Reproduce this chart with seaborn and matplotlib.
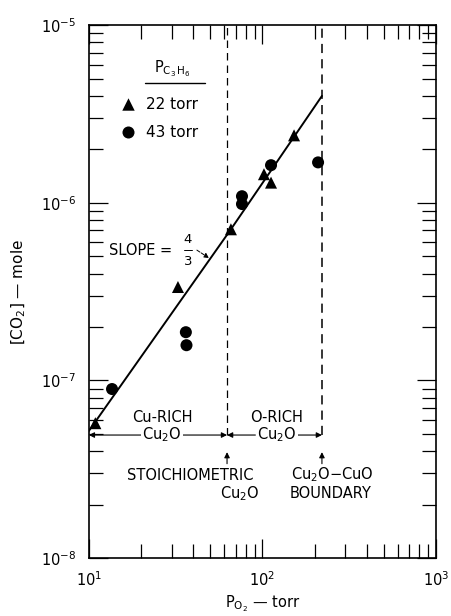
import numpy as np
import pandas as pd
import matplotlib
matplotlib.use("Agg")
import matplotlib.pyplot as plt
import seaborn as sns

# data
tri_x = [10.9, 32.6, 65.8, 102, 112, 152]
tri_y = [5.75e-8, 3.36e-7, 7.1e-7, 1.45e-6, 1.3e-6, 2.4e-6]
cir_x = [13.6, 36.2, 36.5, 76.2, 76.2, 112, 209]
cir_y = [8.95e-8, 1.87e-7, 1.58e-7, 1.09e-6, 9.85e-7, 1.63e-6, 1.69e-6]
fit_x = [10, 65.8, 220]
fit_y = [5.2e-8, 7.1e-7, 4.0e-6]
stoich_x = 62.5
boundary_x = 220
series_labels = ["22 torr", "43 torr"]

sns.set_style("ticks")
plt.rcParams['font.family'] = ['DejaVu Sans']
plt.rcParams['text.color'] = 'black'
plt.rcParams['axes.labelcolor'] = 'black'

fig = plt.figure(figsize=(4.51, 6.16), dpi=100)
ax = fig.add_axes([0.197, 0.094, 0.770, 0.865])

df = pd.DataFrame({
    "x": tri_x + cir_x,
    "y": tri_y + cir_y,
    "s": [series_labels[0]] * len(tri_x) + [series_labels[1]] * len(cir_x),
})
sns.scatterplot(data=df, x="x", y="y", style="s", markers={series_labels[0]: "^", series_labels[1]: "o"},
                color="black", s=75, edgecolor="black", linewidth=0, legend=False, ax=ax)
sns.lineplot(x=fit_x, y=fit_y, color="black", lw=1.4, ax=ax)

ax.set_xscale("log")
ax.set_yscale("log")
ax.set_xlim(10, 1000)
ax.set_ylim(1e-8, 1e-5)

ax.tick_params(which="both", direction="in", top=True, right=True, colors="black", labelsize=10.5, pad=9)
ax.tick_params(which="major", length=14, width=0.9)
ax.tick_params(which="minor", length=10, width=0.9)
for sp in ax.spines.values():
    sp.set_color("black")
    sp.set_linewidth(1.2)

ax.set_xlabel(r"P$_{\mathrm{O_2}}$ — torr", fontsize=10.5, labelpad=3)
ax.set_ylabel(r"[CO$_2$] — mole", fontsize=11)
ax.yaxis.set_label_coords(-0.175, 0.5)

yarr = 4.93e-8
fs = 10.5
# dashed vertical lines
ax.plot([stoich_x, stoich_x], [yarr, 1e-5], ls=(0, (6, 4)), color="black", lw=0.9)
ax.plot([boundary_x, boundary_x], [yarr, 1e-5], ls=(0, (6, 4)), color="black", lw=1.1)

# horizontal region arrows
def harrow(x0, x1):
    ax.annotate("", xy=(x1, yarr), xytext=(x0, yarr),
                arrowprops=dict(arrowstyle="-|>", color="black", lw=0.8, mutation_scale=8, shrinkA=0, shrinkB=0))

harrow(20.5, 10)
harrow(34, stoich_x)
harrow(91, stoich_x)
harrow(160, boundary_x)

ax.text(26.4, 6.2e-8, "Cu-RICH", ha="center", va="center", fontsize=fs)
ax.text(26.4, yarr, r"Cu$_2$O", ha="center", va="center", fontsize=fs,
        bbox=dict(facecolor="white", edgecolor="none", pad=1))
ax.text(121, 6.2e-8, "O-RICH", ha="center", va="center", fontsize=fs)
ax.text(121, yarr, r"Cu$_2$O", ha="center", va="center", fontsize=fs,
        bbox=dict(facecolor="white", edgecolor="none", pad=1))

# up arrows
for xv in (stoich_x, boundary_x):
    ax.annotate("", xy=(xv, 3.95e-8), xytext=(xv, 3.4e-8),
                arrowprops=dict(arrowstyle="-|>", color="black", lw=0.8, mutation_scale=8, shrinkA=0, shrinkB=0))

ax.text(38.2, 2.93e-8, "STOICHIOMETRIC", ha="center", va="center", fontsize=fs)
ax.text(74.1, 2.32e-8, r"Cu$_2$O", ha="center", va="center", fontsize=fs)
ax.text(254, 2.95e-8, r"Cu$_2$O$-$CuO", ha="center", va="center", fontsize=fs)
ax.text(248, 2.3e-8, "BOUNDARY", ha="center", va="center", fontsize=fs)

# slope label
ax.text(13.0, 5.42e-7, "SLOPE =", ha="left", va="center", fontsize=fs)
ax.text(37.2, 5.75e-7, "4", ha="center", va="bottom", fontsize=9.5)
ax.text(37.2, 5.1e-7, "3", ha="center", va="top", fontsize=9.5)
ax.plot([35.3, 39.2], [5.42e-7, 5.42e-7], color="black", lw=0.7)
ax.annotate("", xy=(49.2, 4.89e-7), xytext=(41.9, 5.42e-7),
            arrowprops=dict(arrowstyle="-|>", color="black", lw=0.7, ls="--", mutation_scale=7, shrinkA=0, shrinkB=0))

# legend
ax.text(30.1, 4.95e-6, r"P$_{\mathrm{C_3\,H_6}}$", ha="center", va="bottom", fontsize=fs)
ax.plot([21.0, 46.6], [4.72e-6, 4.72e-6], color="black", lw=1.0)
ax.scatter([16.8], [3.59e-6], marker="^", s=80, color="black", linewidths=0)
ax.scatter([16.8], [2.5e-6], marker="o", s=75, color="black", linewidths=0)
ax.text(21.3, 3.59e-6, series_labels[0], ha="left", va="center", fontsize=11)
ax.text(21.3, 2.5e-6, series_labels[1], ha="left", va="center", fontsize=11)

fig.savefig("out.png", dpi=100)
